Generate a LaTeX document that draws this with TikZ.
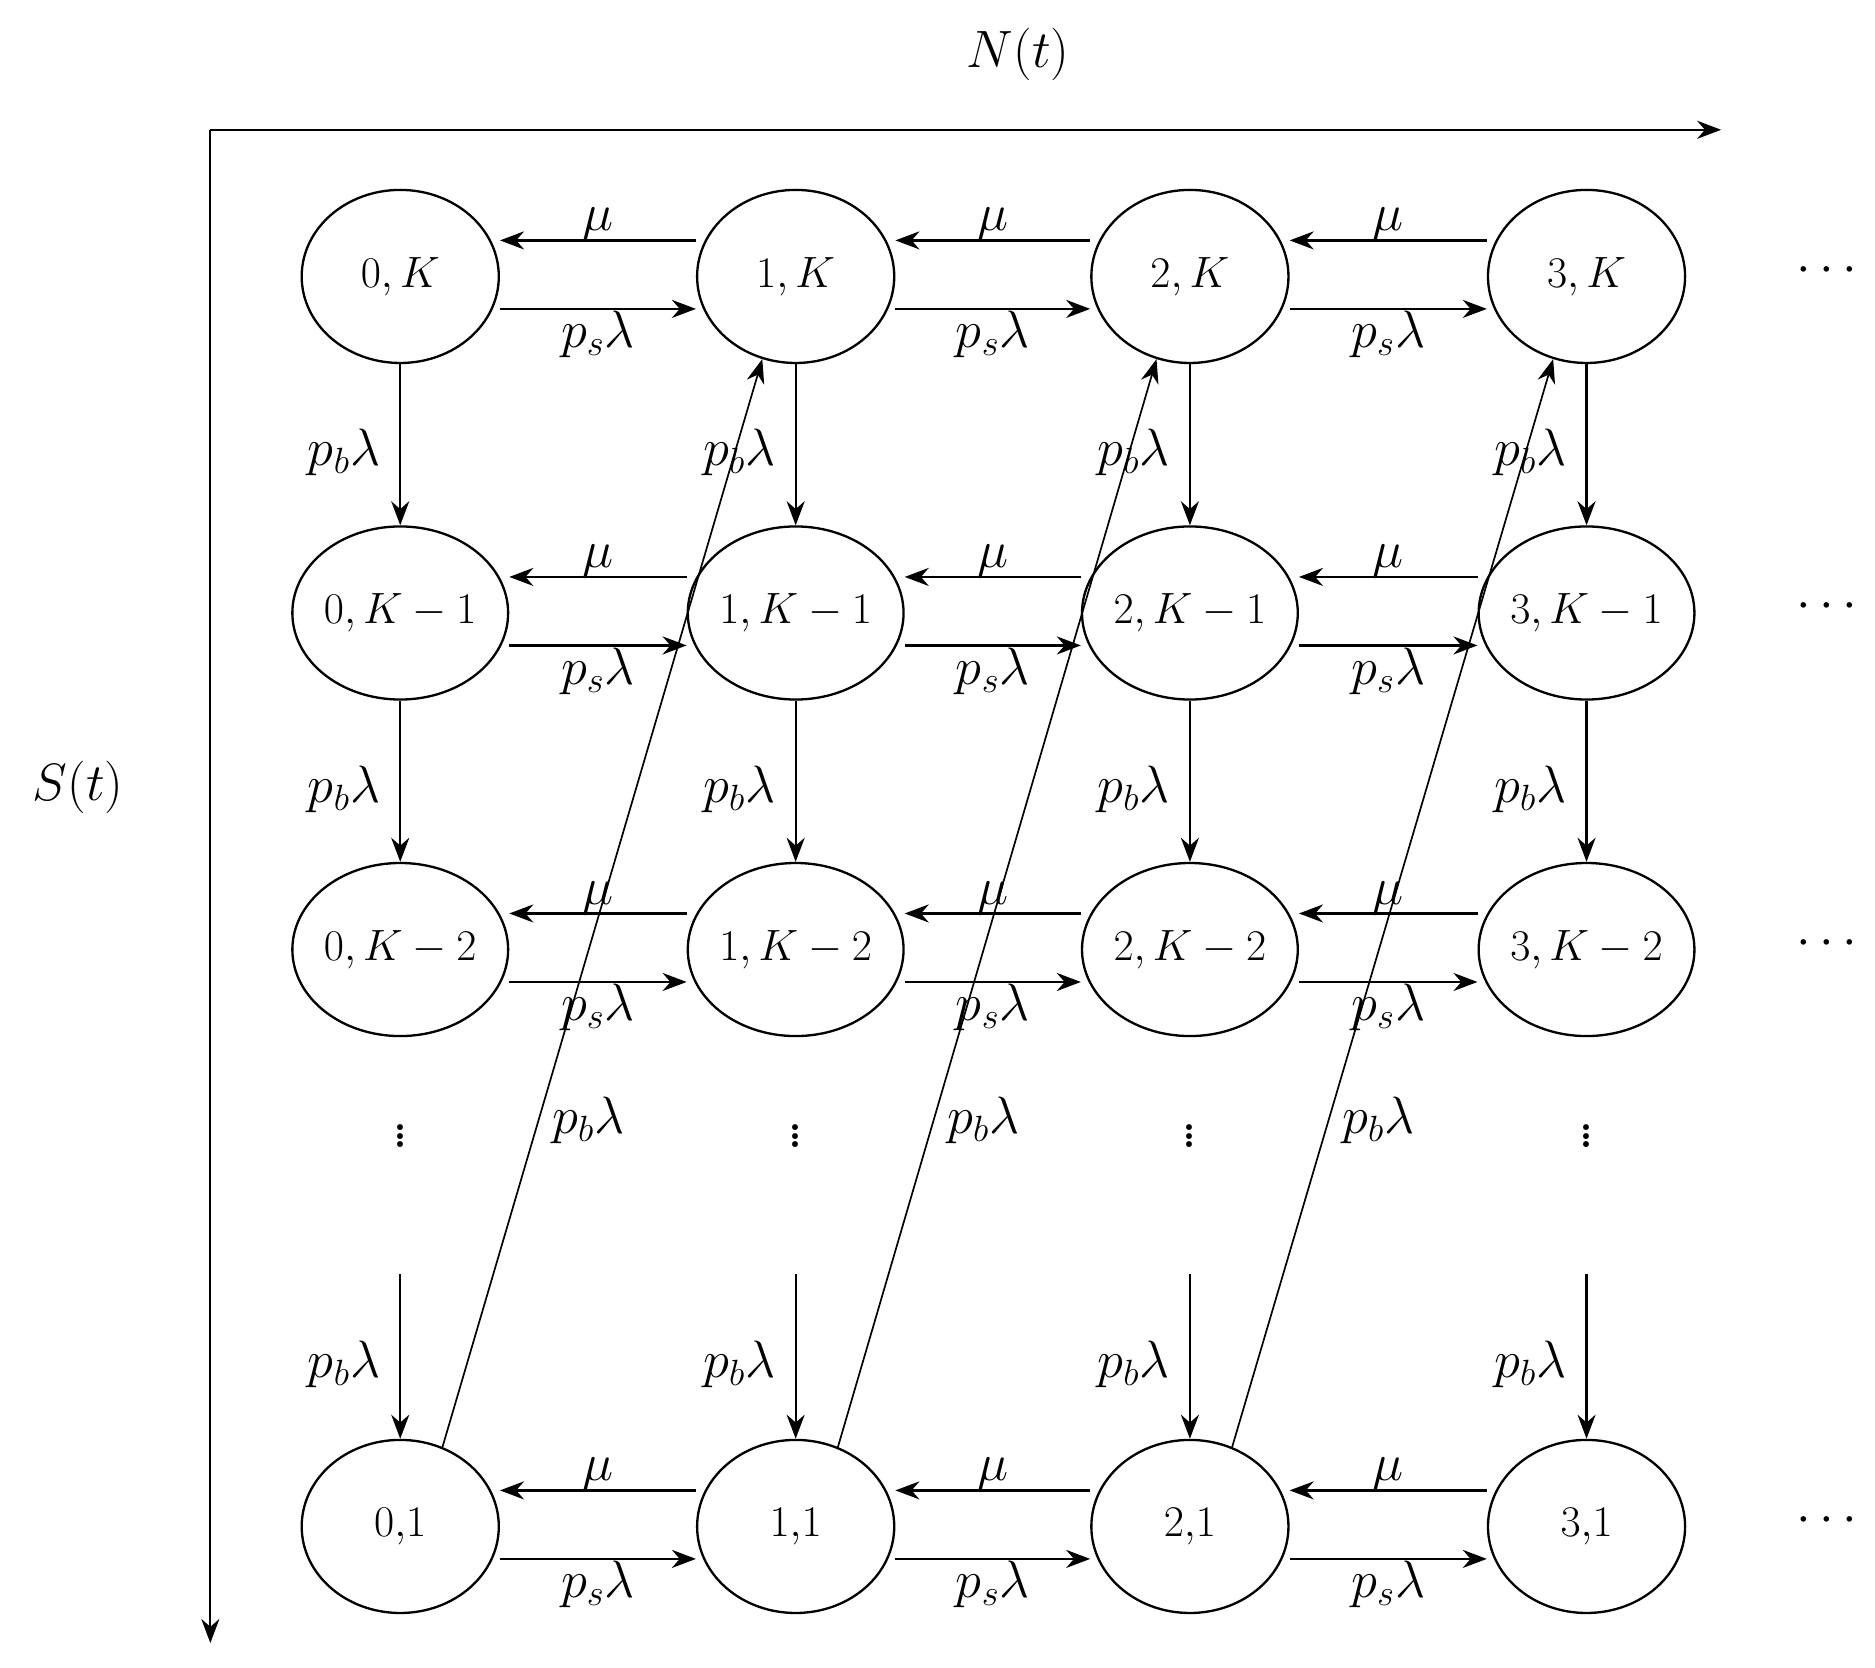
\documentclass[tikz,border=0pt]{standalone}
\usetikzlibrary{arrows.meta,shapes.geometric}
\begin{document}
\begin{tikzpicture}[x=0.2mm,y=-0.2mm,
 st/.style={ellipse,draw,line width=1.1pt,minimum width=32.8mm,minimum height=28.8mm,inner sep=0pt,font=\fontsize{21}{24}\selectfont},
 ar/.style={-{Stealth[length=4mm,width=3mm]},line width=1.1pt},
 lb/.style={font=\fontsize{27}{30}\selectfont},
 dt/.style={font=\fontsize{34}{38}\selectfont}]
\useasboundingbox (0,0) rectangle (1560,1387);
\node[lb] (Nt) at (847,45) {$N(t)$};
\node[lb] (St) at (65,655) {$S(t)$};
\coordinate (o) at (175,108);
\coordinate (xe) at (1432,108);
\coordinate (ye) at (175,1367);
\draw[ar] (o) -- (xe);
\draw[ar] (o) -- (ye);
\foreach \i/\x in {0/333,1/662,2/990,3/1320}{
 \node[st] (a\i) at (\x,230) {$\i,K$};
 \node[st] (b\i) at (\x,510) {$\i,K-1$};
 \node[st] (c\i) at (\x,790) {$\i,K-2$};
 \node[st] (d\i) at (\x,1270) {$\i{,}1$};
 \node[dt] (v\i) at (\x,940) {$\vdots$};
 \coordinate (s\i) at (\x,1060);
 \draw[ar] (a\i) -- node[lb,left=2mm,pos=0.55]{$p_b\lambda$} (b\i);
 \draw[ar] (b\i) -- node[lb,left=2mm,pos=0.55]{$p_b\lambda$} (c\i);
 \draw[ar] (s\i) -- node[lb,left=2mm,pos=0.55]{$p_b\lambda$} (d\i);
}
\foreach \r/\y in {a/230,b/510,c/790,d/1270}{
 \foreach \i/\j in {0/1,1/2,2/3}{
  \draw[ar] ([yshift=6mm]\r\j.west) -- node[lb,above=-1.5mm]{$\mu$} ([yshift=6mm]\r\i.east);
  \draw[ar] ([yshift=-5.4mm]\r\i.east) -- node[lb,below=-1mm]{$p_s\lambda$} ([yshift=-5.4mm]\r\j.west);
 }
 \node[dt] (h\r) at (1520,\y-5) {$\cdots$};
}
\foreach \i/\j in {0/1,1/2,2/3}{
 \draw[-{Stealth[length=4mm,width=3mm]},line width=0.8pt] (d\i.62) -- node[lb,pos=0.3,right=1mm]{$p_b\lambda$} (a\j.-112);
}
\end{tikzpicture}
\end{document}
